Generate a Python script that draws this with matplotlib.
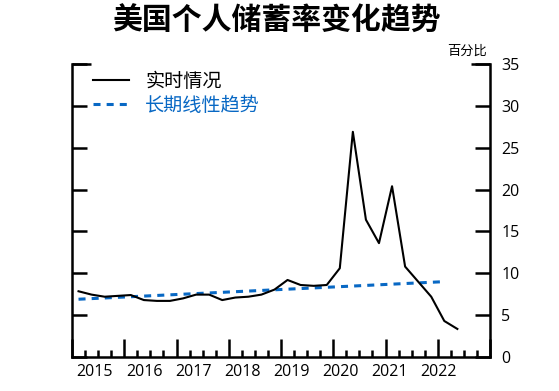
import numpy as np
import matplotlib
matplotlib.use('Agg')
import matplotlib.pyplot as plt
import matplotlib.transforms as mtransforms

plt.rcParams['font.family'] = ['Open Sans', 'Noto Sans CJK SC', 'DejaVu Sans']

# quarterly personal saving rate, 2015Q1 - 2022Q2 (percent)
quarters = ['2015Q1', '2015Q2', '2015Q3', '2015Q4',
            '2016Q1', '2016Q2', '2016Q3', '2016Q4',
            '2017Q1', '2017Q2', '2017Q3', '2017Q4',
            '2018Q1', '2018Q2', '2018Q3', '2018Q4',
            '2019Q1', '2019Q2', '2019Q3', '2019Q4',
            '2020Q1', '2020Q2', '2020Q3', '2020Q4',
            '2021Q1', '2021Q2', '2021Q3', '2021Q4',
            '2022Q1', '2022Q2']
rate = [7.85, 7.45, 7.2, 7.3, 7.4, 6.8, 6.7, 6.7,
        7.0, 7.45, 7.45, 6.8, 7.1, 7.2, 7.45, 8.05,
        9.2, 8.6, 8.5, 8.6, 10.6, 26.9, 16.4, 13.6,
        20.4, 10.8, 9.0, 7.2, 4.3, 3.35]

# linear trend, start and end
trend_quarters = ['2015Q1', '2022Q1']
trend_values = [6.9, 9.0]

year_labels = ['2015', '2016', '2017', '2018', '2019', '2020', '2021', '2022']
y_ticks = [0, 5, 10, 15, 20, 25, 30, 35]


def q_to_x(q):
    return int(q[:4]) + (int(q[5]) - 0.5) / 4.0


x = [q_to_x(q) for q in quarters]
xt = [q_to_x(q) for q in trend_quarters]

blue = '#0868c4'

fig = plt.figure(figsize=(5.59, 3.91), dpi=100)
ax = fig.add_axes([0.1288, 0.087, 0.7478, 0.7493])

ax.plot(x, rate, color='black', lw=1.5, label='实时情况', zorder=3)
ax.plot(xt, trend_values, color=blue, lw=2.2, linestyle=(0, (2.3, 2.0)),
        label='长期线性趋势', zorder=2)

ax.set_xlim(2015, 2023)
ax.set_ylim(0, 35)

for s in ['left', 'right', 'bottom']:
    ax.spines[s].set_linewidth(1.8)
ax.spines['top'].set_visible(False)

ax.set_yticks(y_ticks)
ax.yaxis.tick_right()
ax.tick_params(axis='y', which='both', left=True, right=True, direction='in',
               length=11, width=1.8, labelleft=False, labelright=True,
               labelsize=11.5, pad=8)

ax.set_xticks(np.arange(2015, 2024, 1))
ax.set_xticks(np.arange(2015, 2023.01, 0.25), minor=True)
ax.tick_params(axis='x', which='major', direction='in', length=13, width=1.8,
               labelbottom=False)
ax.tick_params(axis='x', which='minor', direction='in', length=5, width=1.8)

# year labels sit slightly off the year ticks, as in the original
trans = mtransforms.blended_transform_factory(ax.transData, ax.transAxes)
for i, lab in enumerate(year_labels):
    ax.text(2015.44 + i * 0.94, -0.025, lab, transform=trans, ha='center',
            va='top', fontsize=11.5)

# longer stubs at the top of both spines
ax.plot([0, 0.045], [1, 1], transform=ax.transAxes, color='black', lw=1.8,
        clip_on=False, solid_capstyle='butt')
ax.plot([0.955, 1], [1, 1], transform=ax.transAxes, color='black', lw=1.8,
        clip_on=False, solid_capstyle='butt')

leg = ax.legend(loc='upper left', bbox_to_anchor=(0.008, 1.03), frameon=False,
                fontsize=13.8, handlelength=1.9, handletextpad=0.85,
                labelspacing=0.3, labelcolor='linecolor')

fig.text(0.494, 0.943, '美国个人储蓄率变化趋势', ha='center', va='center',
         fontsize=21.5, fontweight='bold')
fig.text(0.871, 0.87, '百分比', ha='right', va='center', fontsize=9.5)

plt.savefig('out.png', dpi=100)
